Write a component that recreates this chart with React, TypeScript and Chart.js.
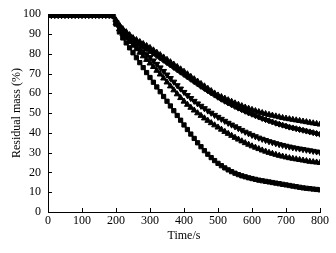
import React, { useEffect, useRef } from "react";
import { Chart, registerables } from "chart.js";

Chart.register(...registerables);

const times: number[] = [];
for (let t = 0; t <= 800; t += 10) times.push(t);

const flat = [99.5, 99.5, 99.5, 99.5, 99.5, 99.5, 99.5, 99.5, 99.5, 99.5, 99.5, 99.5, 99.5, 99.5, 99.5, 99.5, 99.5, 99.5, 99.5, 99.2];

const seriesA = [...flat,
  97, 94.5, 92.5, 91, 89.5, 88, 87, 86, 85, 84,
  83, 81.8, 80.6, 79.4, 78.2, 77, 75.8, 74.6, 73.4, 72.2,
  71, 69.7, 68.4, 67.2, 66, 64.8, 63.6, 62.4, 61.2, 60,
  59, 58.2, 57.4, 56.6, 55.8, 55, 54.3, 53.6, 52.9, 52.3,
  51.7, 51.1, 50.6, 50.1, 49.6, 49.2, 48.8, 48.4, 48.0, 47.6,
  47.3, 47.0, 46.7, 46.4, 46.1, 45.8, 45.5, 45.2, 44.9, 44.6, 44.3];

const seriesB = [...flat,
  96.5, 94, 92, 90.3, 88.8, 87.4, 86.2, 85, 83.8, 82.6,
  81.5, 80.3, 79.1, 77.9, 76.7, 75.5, 74.3, 73.1, 71.9, 70.7,
  69.5, 68.3, 67.1, 65.9, 64.7, 63.5, 62.4, 61.3, 60.2, 59.1,
  58, 57, 56, 55.1, 54.2, 53.3, 52.5, 51.7, 50.9, 50.1,
  49.4, 48.7, 48, 47.3, 46.7, 46.1, 45.5, 44.9, 44.4, 43.9,
  43.4, 42.9, 42.5, 42.1, 41.7, 41.3, 40.9, 40.5, 40.1, 39.7, 39.3];

const seriesC = [...flat,
  96, 93, 90.8, 89, 87.3, 85.7, 84.2, 82.7, 81.2, 79.7,
  78.2, 76.5, 74.8, 73, 71.2, 69.4, 67.6, 65.8, 64, 62.3,
  60.6, 59, 57.5, 56.1, 54.8, 53.6, 52.4, 51.2, 50.1, 49,
  48, 47, 46, 45, 44.1, 43.2, 42.3, 41.4, 40.5, 39.7,
  38.9, 38.2, 37.5, 36.9, 36.3, 35.7, 35.2, 34.7, 34.2, 33.8,
  33.4, 33, 32.6, 32.3, 32, 31.7, 31.4, 31.1, 30.8, 30.5, 30.2];

const seriesD = [...flat,
  95.5, 92.5, 90, 88, 86, 84.2, 82.4, 80.6, 78.8, 77,
  75.2, 73.4, 71.5, 69.6, 67.6, 65.6, 63.6, 61.6, 59.6, 57.7,
  55.9, 54.3, 52.8, 51.4, 50, 48.7, 47.4, 46.2, 45, 43.9,
  42.8, 41.7, 40.6, 39.6, 38.6, 37.6, 36.7, 35.8, 34.9, 34.1,
  33.3, 32.6, 31.9, 31.2, 30.6, 30, 29.5, 29, 28.5, 28.1,
  27.7, 27.3, 27, 26.7, 26.4, 26.1, 25.8, 25.5, 25.3, 25.1, 24.9];

const seriesE = [...flat,
  95, 91, 88, 85.5, 83, 80.5, 78, 75.5, 73, 70.5,
  68, 65.6, 63.2, 60.8, 58.4, 56, 53.6, 51.2, 48.8, 46.4,
  44, 41.7, 39.4, 37.2, 35, 33, 31, 29.2, 27.5, 26,
  24.6, 23.4, 22.3, 21.3, 20.4, 19.6, 18.9, 18.3, 17.8, 17.3,
  16.9, 16.5, 16.1, 15.8, 15.5, 15.2, 14.9, 14.6, 14.3, 14,
  13.7, 13.4, 13.1, 12.8, 12.5, 12.2, 12, 11.8, 11.6, 11.4, 11.2];

const xTicks = [0, 100, 200, 300, 400, 500, 600, 700, 800];
const yTicks = [0, 10, 20, 30, 40, 50, 60, 70, 80, 90, 100];

const FONT = "'Liberation Serif', 'Times New Roman', serif";

const inwardTicks = {
  id: "inwardTicks",
  afterDraw(chart: any) {
    const { ctx, chartArea, scales } = chart;
    ctx.save();
    ctx.strokeStyle = "#000";
    ctx.lineWidth = 1;
    ctx.beginPath();
    for (const v of xTicks) {
      const px = Math.round(scales.x.getPixelForValue(v)) + 0.5;
      ctx.moveTo(px, chartArea.bottom);
      ctx.lineTo(px, chartArea.bottom - 4);
    }
    for (const v of yTicks) {
      const py = Math.round(scales.y.getPixelForValue(v)) + 0.5;
      ctx.moveTo(chartArea.left, py);
      ctx.lineTo(chartArea.left + 4, py);
    }
    ctx.stroke();
    ctx.restore();
  },
};

export default function App() {
  const ref = useRef<HTMLCanvasElement>(null);
  useEffect(() => {
    document.body.style.margin = "0";
    const mk = (data: number[], style: any, rot = 0, r = 3) => ({
      data: times.map((t, i) => ({ x: t, y: data[i] })),
      borderColor: "#000",
      backgroundColor: "#000",
      borderWidth: 1.5,
      pointStyle: style,
      rotation: rot,
      pointRadius: r,
      pointBorderWidth: 1,
      pointBackgroundColor: "#000",
      pointBorderColor: "#000",
    });
    const chart = new Chart(ref.current!, {
      type: "line",
      data: {
        datasets: [
          mk(seriesA, "triangle", 0, 3.4),
          mk(seriesB, "rectRot", 0, 3),
          mk(seriesC, "triangle", 180, 3.4),
          mk(seriesD, "triangle", 0, 3.4),
          mk(seriesE, "rect", 0, 3),
        ] as any,
      },
      options: {
        animation: false,
        responsive: false,
        plugins: { legend: { display: false }, tooltip: { enabled: false } },
        layout: { padding: { top: 12, right: 16, left: 0, bottom: 0 } },
        scales: {
          x: {
            type: "linear",
            min: 0,
            max: 800,
            afterBuildTicks: (s: any) => { s.ticks = xTicks.map((v) => ({ value: v })); },
            afterFit: (s: any) => { s.height = 41; },
            grid: { display: false, drawTicks: false },
            border: { display: true, color: "#000", width: 1 },
            ticks: { color: "#000", font: { family: FONT, size: 12 }, padding: 2, maxRotation: 0 },
            title: { display: true, text: "Time/s", color: "#000", font: { family: FONT, size: 12 }, padding: { top: 0, bottom: 10 } },
          },
          y: {
            min: 0,
            max: 100,
            afterBuildTicks: (s: any) => { s.ticks = yTicks.map((v) => ({ value: v })); },
            afterFit: (s: any) => { s.width = 48; },
            grid: { display: false, drawTicks: false },
            border: { display: true, color: "#000", width: 1 },
            ticks: { color: "#000", font: { family: FONT, size: 12 }, padding: 7 },
            title: { display: true, text: "Residual mass (%)", color: "#000", font: { family: FONT, size: 12 }, padding: { top: 10, bottom: 0 } },
          },
        },
      },
      plugins: [inwardTicks],
    });
    return () => chart.destroy();
  }, []);
  return (
    <div style={{ width: 336, height: 253, background: "#fff" }}>
      <canvas ref={ref} width={336} height={253} style={{ width: 336, height: 253, display: "block" }} />
    </div>
  );
}
